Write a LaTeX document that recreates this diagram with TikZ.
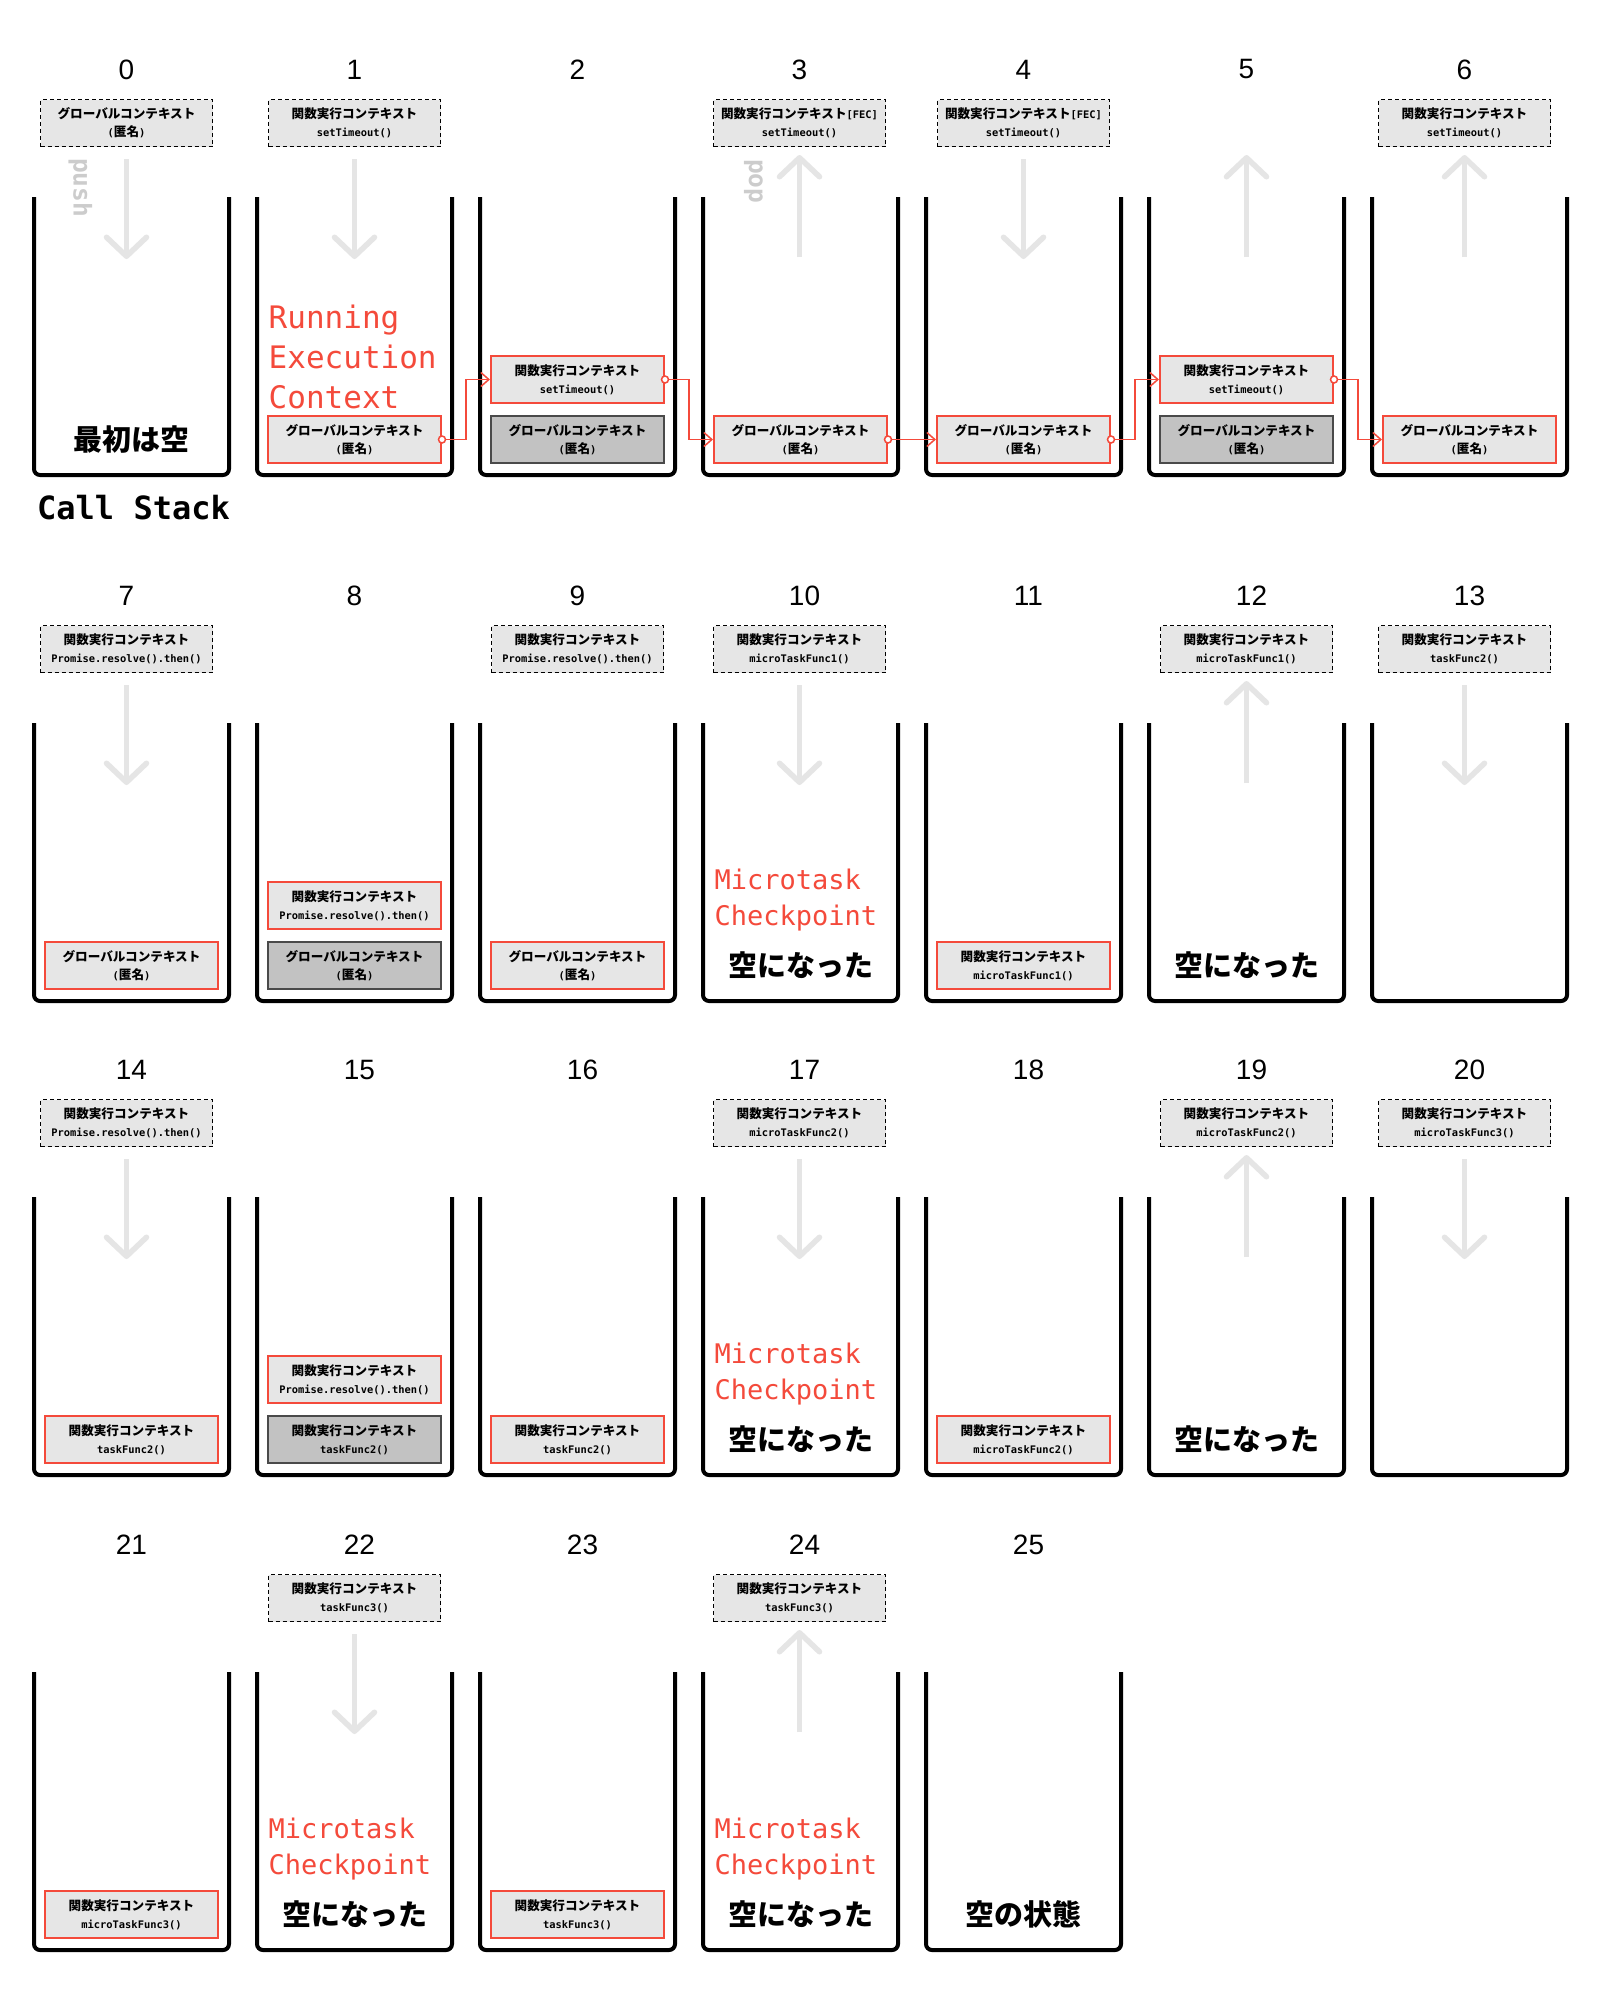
\documentclass[tikz,border=0pt]{standalone}
\usepackage{fontspec}
\setmainfont{Liberation Sans}
\newfontfamily\jpfont{Noto Sans CJK JP}
\newfontfamily\monofont{DejaVu Sans Mono}
\usetikzlibrary{calc, arrows.meta}

\definecolor{redline}{HTML}{F44A3B}
\definecolor{ctxfill}{HTML}{E6E6E6}
\definecolor{donefill}{HTML}{C2C2C2}
\definecolor{doneline}{HTML}{4A4A4A}
\definecolor{flowgray}{HTML}{E5E5E5}
\definecolor{lblgray}{HTML}{CCCCCC}

\newcommand\jpt[1]{{\jpfont\bfseries #1}}
\newcommand\codet[1]{{\monofont\bfseries\fontsize{10.4}{18}\selectfont #1}}
\newcommand\gctx{\jpt{グローバルコンテキスト}\\\codet{(}\jpt{匿名}\codet{)}}
\newcommand\fctx[1]{\jpt{関数実行コンテキスト}\\\codet{#1}}
\newcommand\fecctx{\jpt{関数実行コンテキスト}\codet{[FEC]}\\\codet{setTimeout()}}

\newcommand\waiting[2]{\node[ctxwait] (w#1) at ($(t#1)+(0,-74)$) {#2};}
\newcommand\onstack[5]{\node[#4] (#1) at ($(p#2)+(0,{242.5-60*#3})$) {#5};}
\newcommand\flowdown[1]{%
  \coordinate (fs#1) at ($(t#1)+(0,-38)$);
  \coordinate (fe#1) at ($(t#1)+(0,62)$);
  \draw[flow] (fs#1) -- (fe#1);}
\newcommand\flowup[1]{%
  \coordinate (fs#1) at ($(t#1)+(0,60)$);
  \coordinate (fe#1) at ($(t#1)+(0,-42)$);
  \draw[flow] (fs#1) -- (fe#1);}
\newcommand\linkctx[2]{%
  \draw[link] (#1.east) -| ($(#1.east)!.5!(#2.west)$) |- (#2.west);
  \draw[linkdot] (#1.east) circle[radius=3.5pt];}
\newcommand\checkpt[1]{%
  \node[checkmsg] (cp#1) at ($(p#1)+(-86,177.5)$) {Microtask\\Checkpoint};
  \node[emptymsg] (em#1) at ($(p#1)+(0,242)$) {空になった};}

\begin{document}
\begin{tikzpicture}[x=1pt, y=-1pt,
  stackwall/.style={line width=4pt, rounded corners=6pt},
  stepnum/.style={font=\fontsize{28}{32}\selectfont, inner sep=0pt},
  ctxbase/.style={minimum width=173pt, minimum height=47pt, inner sep=0pt,
    align=center, fill=ctxfill, font=\fontsize{12.6}{18}\selectfont},
  ctxwait/.style={ctxbase, minimum width=172pt, draw=black, line width=1.4pt, dash pattern=on 4pt off 3pt},
  ctxrun/.style={ctxbase, draw=redline, line width=2pt},
  ctxdone/.style={ctxbase, fill=donefill, draw=doneline, line width=1.4pt},
  flow/.style={draw=flowgray, line width=5.5pt, -{Straight Barb[length=19pt, width=40pt, round]}},
  link/.style={draw=redline, line width=1.5pt, -{Straight Barb[length=8pt, width=14pt]}},
  linkdot/.style={draw=redline, line width=1.5pt, fill=white},
  stacklbl/.style={font=\monofont\bfseries\fontsize{24.5}{28}\selectfont, text=lblgray, rotate=-90, anchor=west, inner sep=0pt},
  runmsg/.style={font=\monofont\fontsize{31}{40}\selectfont, text=redline, align=left, anchor=west, inner sep=0pt},
  checkmsg/.style={runmsg, font=\monofont\fontsize{27}{36}\selectfont},
  emptymsg/.style={font=\jpfont\bfseries\fontsize{29}{34}\selectfont, inner sep=0pt},
  heading/.style={font=\monofont\bfseries\fontsize{32}{36}\selectfont, anchor=west, inner sep=0pt}]
\fill[white] (0,0) rectangle (1600,2000);
\useasboundingbox (0,0) rectangle (1600,2000);

\foreach \n in {0,...,25}{
  \pgfmathtruncatemacro\rw{div(\n,7)}
  \pgfmathtruncatemacro\cl{mod(\n,7)}
  \pgfmathsetmacro\ry{{197,723,1197,1672}[\rw]}
  \pgfmathsetmacro\tx{{-5,0,0,-1,0,0,-5}[\cl]}
  \pgfmathsetmacro\nx{\n>9 ? 5 : 0}
  \coordinate (p\n) at ({131.5+223*\cl},\ry);
  \coordinate (t\n) at ($(p\n)+(\tx,0)$);
  \draw[stackwall] ($(p\n)+(-97.5,0)$) -- ++(0,278) -- ++(195,0) -- ++(0,-278);
  \node[stepnum] (n\n) at ($(t\n)+(\nx,-127.5)$) {\n};
}

% row 1
\waiting{0}{\gctx}
\flowdown{0}
\node[stacklbl] (pushlbl) at ($(t0)+(-46,-39)$) {push};
\node[emptymsg] (first) at ($(p0)+(0,243)$) {最初は空};
\node[heading] (title) at (37,508) {Call Stack};

\waiting{1}{\fctx{setTimeout()}}
\flowdown{1}
\node[runmsg] (rec) at ($(p1)+(-86,160)$) {Running\\Execution\\Context};
\onstack{s1a}{1}{0}{ctxrun}{\gctx}

\onstack{s2a}{2}{0}{ctxdone}{\gctx}
\onstack{s2b}{2}{1}{ctxrun}{\fctx{setTimeout()}}

\waiting{3}{\fecctx}
\flowup{3}
\node[stacklbl] (poplbl) at ($(t3)+(-46,-38)$) {pop};
\onstack{s3a}{3}{0}{ctxrun}{\gctx}

\waiting{4}{\fecctx}
\flowdown{4}
\onstack{s4a}{4}{0}{ctxrun}{\gctx}

\flowup{5}
\onstack{s5a}{5}{0}{ctxdone}{\gctx}
\onstack{s5b}{5}{1}{ctxrun}{\fctx{setTimeout()}}

\waiting{6}{\fctx{setTimeout()}}
\flowup{6}
\onstack{s6a}{6}{0}{ctxrun}{\gctx}

\linkctx{s1a}{s2b}
\linkctx{s2b}{s3a}
\linkctx{s3a}{s4a}
\linkctx{s4a}{s5b}
\linkctx{s5b}{s6a}

% row 2
\waiting{7}{\fctx{Promise.resolve().then()}}
\flowdown{7}
\onstack{s7a}{7}{0}{ctxrun}{\gctx}

\onstack{s8a}{8}{0}{ctxdone}{\gctx}
\onstack{s8b}{8}{1}{ctxrun}{\fctx{Promise.resolve().then()}}

\waiting{9}{\fctx{Promise.resolve().then()}}
\onstack{s9a}{9}{0}{ctxrun}{\gctx}

\waiting{10}{\fctx{microTaskFunc1()}}
\flowdown{10}
\checkpt{10}

\onstack{s11a}{11}{0}{ctxrun}{\fctx{microTaskFunc1()}}

\waiting{12}{\fctx{microTaskFunc1()}}
\flowup{12}
\node[emptymsg] (em12) at ($(p12)+(0,242)$) {空になった};

\waiting{13}{\fctx{taskFunc2()}}
\flowdown{13}

% row 3
\waiting{14}{\fctx{Promise.resolve().then()}}
\flowdown{14}
\onstack{s14a}{14}{0}{ctxrun}{\fctx{taskFunc2()}}

\onstack{s15a}{15}{0}{ctxdone}{\fctx{taskFunc2()}}
\onstack{s15b}{15}{1}{ctxrun}{\fctx{Promise.resolve().then()}}

\onstack{s16a}{16}{0}{ctxrun}{\fctx{taskFunc2()}}

\waiting{17}{\fctx{microTaskFunc2()}}
\flowdown{17}
\checkpt{17}

\onstack{s18a}{18}{0}{ctxrun}{\fctx{microTaskFunc2()}}

\waiting{19}{\fctx{microTaskFunc2()}}
\flowup{19}
\node[emptymsg] (em19) at ($(p19)+(0,242)$) {空になった};

\waiting{20}{\fctx{microTaskFunc3()}}
\flowdown{20}

% row 4
\onstack{s21a}{21}{0}{ctxrun}{\fctx{microTaskFunc3()}}

\waiting{22}{\fctx{taskFunc3()}}
\flowdown{22}
\checkpt{22}

\onstack{s23a}{23}{0}{ctxrun}{\fctx{taskFunc3()}}

\waiting{24}{\fctx{taskFunc3()}}
\flowup{24}
\checkpt{24}

\node[emptymsg] (em25) at ($(p25)+(0,242)$) {空の状態};
\end{tikzpicture}
\end{document}
